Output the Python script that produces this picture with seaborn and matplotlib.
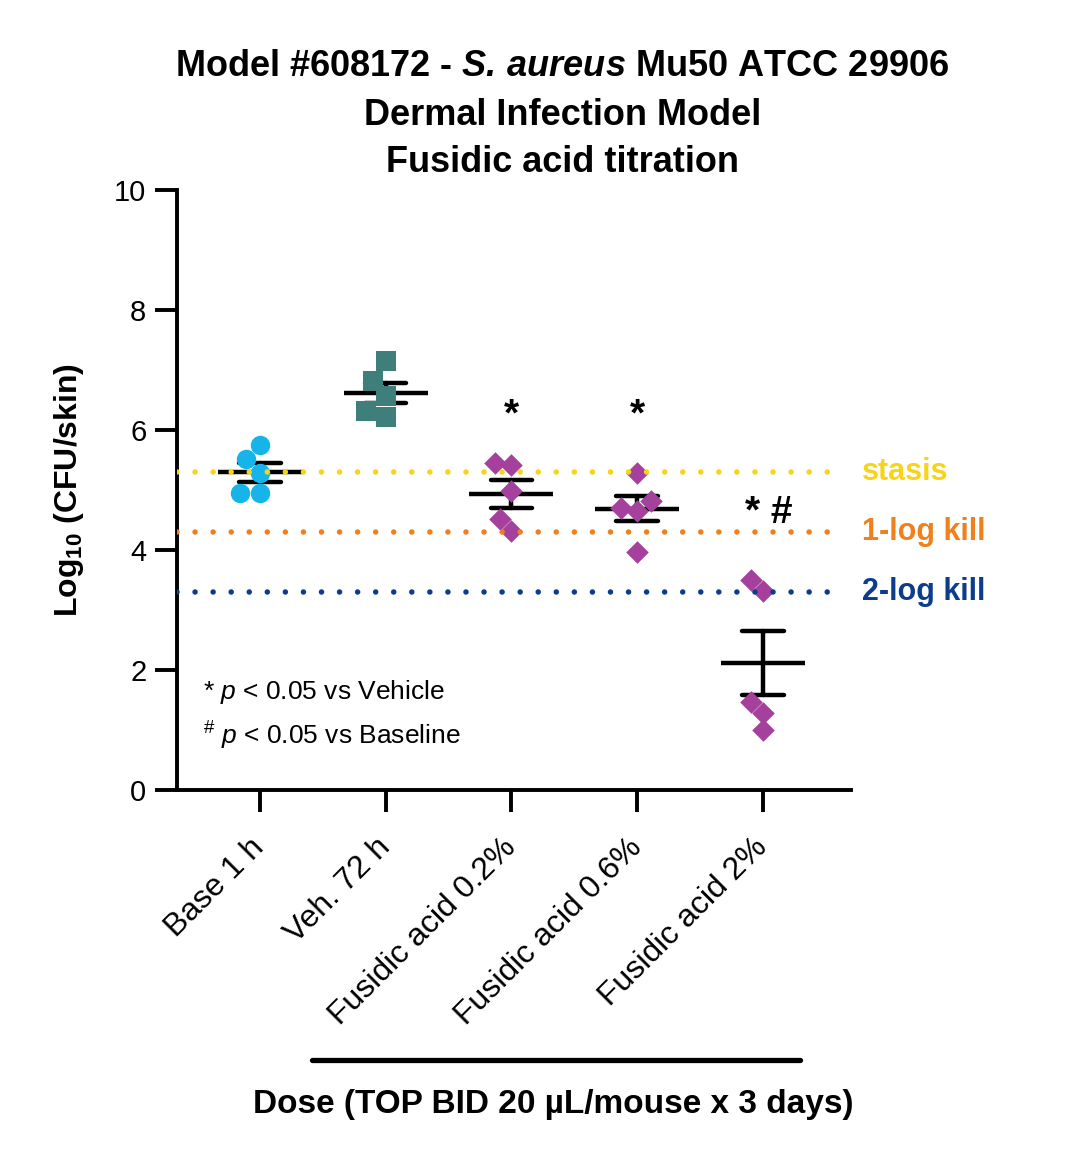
"""
Dermal infection model - fusidic acid titration scatter (mean +/- SEM).
"""

import matplotlib
matplotlib.use("Agg")
import matplotlib.pyplot as plt
from matplotlib.lines import Line2D
import numpy as np
import pandas as pd
import seaborn as sns


GROUPS = ["Base 1 h", "Veh. 72 h", "Fusidic acid 0.2%", "Fusidic acid 0.6%", "Fusidic acid 2%"]
BASE_1H = [5.76, 5.52, 5.29, 4.96, 4.96]
VEH_72H = [7.15, 6.82, 6.57, 6.32, 6.22]
FA_02 = [5.46, 5.42, 4.98, 4.52, 4.32]
FA_06 = [5.29, 4.82, 4.71, 4.66, 3.97]
FA_2 = [3.51, 3.32, 1.47, 1.29, 1.00]

REF_LEVELS = [5.3, 4.3, 3.3]
REF_LABELS = ["stasis", "1-log kill", "2-log kill"]
SIG_LABELS = ["", "", "*", "*", "* #"]

Y_TICKS = [0, 2, 4, 6, 8, 10]

CYAN = "#16B4E8"
TEAL = "#3E7F7B"
PURPLE = "#A5409D"
REF_COLORS = ["#F7D417", "#F0801E", "#0B3D8C"]

OUT_PATH = "out.png"


def build_frame():
    values = [BASE_1H, VEH_72H, FA_02, FA_06, FA_2]
    return pd.DataFrame({
        "group": np.repeat(GROUPS, [len(v) for v in values]),
        "value": np.concatenate(values),
    })


def main():
    sns.set_style("ticks")
    plt.rcParams["font.family"] = ["Liberation Sans", "DejaVu Sans"]
    plt.rcParams["mathtext.fontset"] = "custom"
    plt.rcParams["mathtext.rm"] = "Liberation Sans"
    plt.rcParams["mathtext.it"] = "Liberation Sans:italic"
    plt.rcParams["mathtext.bf"] = "Liberation Sans:bold"
    plt.rcParams["mathtext.bfit"] = "Liberation Sans:italic:bold"
    for key in ["text.color", "axes.labelcolor", "xtick.color", "ytick.color", "axes.edgecolor"]:
        plt.rcParams[key] = "black"

    df = build_frame()

    fig = plt.figure(figsize=(10.73, 11.69), dpi=100)
    ax = fig.add_axes([0.165, 0.324, 0.628, 0.5134])

    # scatter points, one marker per treatment type
    point_styles = [
        ([GROUPS[0]], "o", CYAN, 14),
        ([GROUPS[1]], "s", TEAL, 14),
        (GROUPS[2:], "D", PURPLE, 11.5),
    ]
    for groups, marker, color, size in point_styles:
        sns.swarmplot(
            data=df[df["group"].isin(groups)], x="group", y="value", order=GROUPS,
            marker=marker, color=color, size=size, linewidth=0, ax=ax,
        )

    # mean +/- SEM
    sns.pointplot(
        data=df, x="group", y="value", order=GROUPS, errorbar="se",
        capsize=0.33, color="black", linestyle="none", marker="_",
        markersize=60, markeredgewidth=3.2, err_kws={"linewidth": 3.2}, ax=ax,
    )

    # reference kill lines
    for level, label, color in zip(REF_LEVELS, REF_LABELS, REF_COLORS):
        ax.axhline(level, xmin=0, xmax=0.99, color=color, lw=4,
                   ls=(0, (0.001, 3.25)), dash_capstyle="round", zorder=6)
        ax.text(1.016, level, label, transform=ax.get_yaxis_transform(),
                ha="left", va="center", fontsize=22, fontweight="bold",
                color=color, clip_on=False)

    # significance marks
    sig_y = {"*": 6.07, "* #": 4.45}
    sig_dx = {"*": 0.0, "* #": 0.05}
    for i, mark in enumerate(SIG_LABELS):
        if mark:
            ax.text(i + sig_dx[mark], sig_y[mark], mark, ha="center", va="baseline",
                    fontsize=28, fontweight="bold")

    ax.text(0.038, 0.163, r"* $p$ < 0.05 vs Vehicle", transform=ax.transAxes,
            ha="left", va="center", fontsize=19)
    ax.text(0.038, 0.09, r"$^{\#}$ $p$ < 0.05 vs Baseline", transform=ax.transAxes,
            ha="left", va="center", fontsize=19)

    ax.set_xlim(-0.66, 4.70)
    ax.set_ylim(0, 10)
    ax.set_yticks(Y_TICKS)
    ax.set_yticklabels([str(t) for t in Y_TICKS], fontsize=21)
    ax.set_xticks(range(len(GROUPS)))
    ax.set_xticklabels(GROUPS, fontsize=23, rotation=45, ha="right",
                       rotation_mode="anchor", va="center")
    ax.set_xlabel("")
    ax.set_ylabel(r"Log$_{\mathbf{10}}$ (CFU/skin)", fontsize=23, fontweight="bold",
                  labelpad=20)

    for side in ["top", "right"]:
        ax.spines[side].set_visible(False)
    for side in ["left", "bottom"]:
        ax.spines[side].set_linewidth(2.8)
    ax.tick_params(axis="both", length=16, width=2.8, color="black", pad=6)
    ax.tick_params(axis="x", pad=22)

    # three-line title
    title_lines = [
        r"Model #608172 - $\mathbfit{S.\,aureus}$ Mu50 ATCC 29906",
        "Dermal Infection Model",
        "Fusidic acid titration",
    ]
    for line, y in zip(title_lines, [0.9427, 0.9008, 0.8606]):
        fig.text(0.524, y, line, ha="center", va="center", fontsize=26,
                 fontweight="bold")

    # bracket line and dose label
    fig.add_artist(Line2D([312 / 1073, 800 / 1073], [1 - 1060 / 1169] * 2,
                          lw=3.8, color="black"))
    fig.text(553 / 1073, 1 - 1105 / 1169, "Dose (TOP BID 20 µL/mouse x 3 days)",
             ha="center", va="center", fontsize=24, fontweight="bold")

    fig.savefig(OUT_PATH, dpi=100)
    plt.close(fig)


if __name__ == "__main__":
    main()
